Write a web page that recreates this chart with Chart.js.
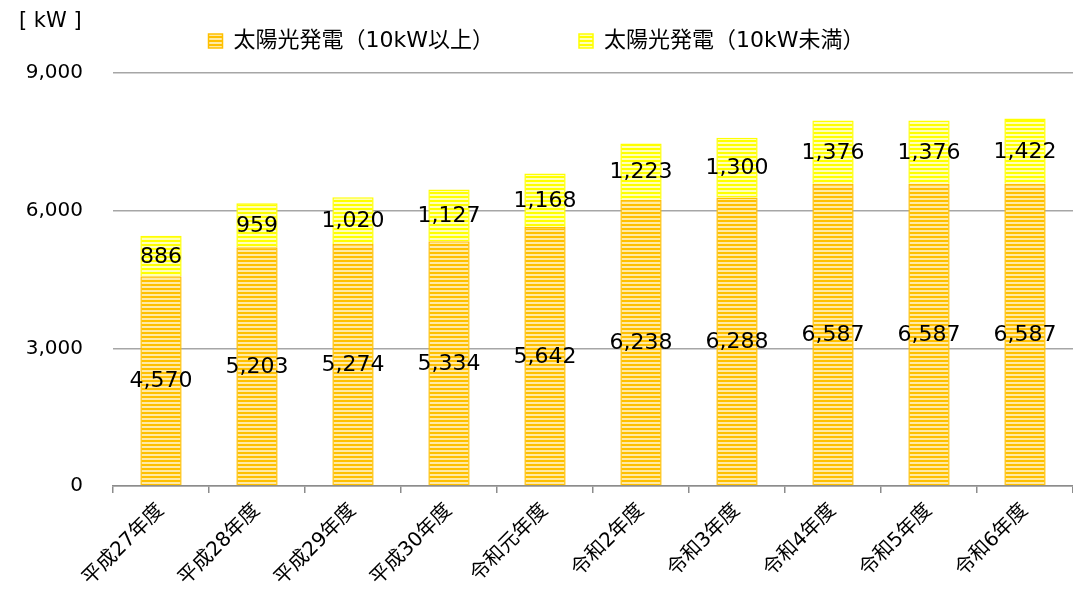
<!DOCTYPE html>
<html>
<head>
<meta charset="utf-8">
<script src="https://cdn.jsdelivr.net/npm/chart.js@4/dist/chart.umd.min.js"></script>
<style>
  html, body { margin: 0; padding: 0; background: #fff; }
  #wrap { width: 1073px; height: 592px; }
</style>
</head>
<body>
<div id="wrap"><canvas id="mycanvas"></canvas></div>
<script>
var years = ["平成27年度", "平成28年度", "平成29年度", "平成30年度", "令和元年度",
             "令和2年度", "令和3年度", "令和4年度", "令和5年度", "令和6年度"];
var over10 = [4570, 5203, 5274, 5334, 5642, 6238, 6288, 6587, 6587, 6587];
var under10 = [886, 959, 1020, 1127, 1168, 1223, 1300, 1376, 1376, 1422];
var seriesNames = ["太陽光発電（10kW以上）", "太陽光発電（10kW未満）"];

var jpFont = "'DejaVu Sans', 'Noto Sans CJK JP', sans-serif";

// striped fill like the original
function stripes(base, light) {
	var c = document.createElement("canvas");
	c.width = 8; c.height = 4;
	var g = c.getContext("2d");
	g.fillStyle = base;
	g.fillRect(0, 0, 8, 4);
	g.fillStyle = light;
	g.fillRect(0, 2, 8, 2);
	return g.createPattern(c, "repeat");
}

var ctx = document.getElementById("mycanvas").getContext("2d");

var labelPlugin = {
	id: "segLabels",
	afterDatasetsDraw: function(chart) {
		var c = chart.ctx;
		c.save();
		c.font = "22px " + jpFont;
		c.fillStyle = "#000";
		c.textAlign = "center";
		c.textBaseline = "middle";
		chart.data.datasets.forEach(function(ds, di) {
			var meta = chart.getDatasetMeta(di);
			meta.data.forEach(function(bar, i) {
				var mid = (bar.y + bar.base) / 2;
				c.fillText(ds.data[i].toLocaleString("en-US"), bar.x, mid + 1);
			});
		});
		// unit label
		c.font = "21px " + jpFont;
		c.textAlign = "left";
		c.fillText("[ kW ]", 19, 22);
		c.restore();
	}
};

var chart = new Chart(ctx, {
	type: "bar",
	data: {
		labels: years,
		datasets: [
			{
				label: seriesNames[0],
				data: over10,
				backgroundColor: stripes("#FFC000", "#FFEAA6"),
				borderColor: "#FFC000",
				borderWidth: 1.5,
				barPercentage: 0.43,
				categoryPercentage: 1.0
			},
			{
				label: seriesNames[1],
				data: under10,
				backgroundColor: stripes("#FFFF00", "#FFFFB8"),
				borderColor: "#FFFF00",
				borderWidth: 1.5,
				barPercentage: 0.43,
				categoryPercentage: 1.0
			}
		]
	},
	options: {
		responsive: true,
		maintainAspectRatio: false,
		animation: false,
		layout: { padding: { top: -55, right: 0, left: 0, bottom: 0 } },
		plugins: {
			legend: {
				position: "top",
				labels: {
					boxWidth: 14,
					boxHeight: 14,
					padding: 85,
					color: "#000",
					font: { size: 22, family: jpFont }
				}
			},
			tooltip: { enabled: false }
		},
		scales: {
			x: {
				stacked: true,
				grid: {
					offset: true,
					drawOnChartArea: false,
					drawTicks: true,
					tickLength: 7,
					color: "#8c8c8c",
					lineWidth: 1.5
				},
				border: { color: "#8c8c8c", width: 1.5 },
				ticks: {
					minRotation: 45,
					maxRotation: 45,
					padding: 6,
					color: "#000",
					font: { size: 20, family: jpFont }
				},
				afterFit: function(scale) { scale.height = 106; }
			},
			y: {
				stacked: true,
				min: 0,
				max: 9000,
				ticks: {
					stepSize: 3000,
					color: "#000",
					padding: 30,
					font: { size: 20, family: jpFont },
					callback: function(v) { return v.toLocaleString("en-US"); }
				},
				grid: { color: "#a6a6a6", lineWidth: 1.5, drawTicks: false },
				border: { display: false },
				afterFit: function(scale) { scale.width = 113; }
			}
		}
	},
	plugins: [labelPlugin]
});

// legend height tweak so the plot starts where the original does
var legendFit = chart.legend.fit;
chart.legend.fit = function() {
	legendFit.call(this);
	this.height += 11;
};
chart.update();
</script>
</body>
</html>
